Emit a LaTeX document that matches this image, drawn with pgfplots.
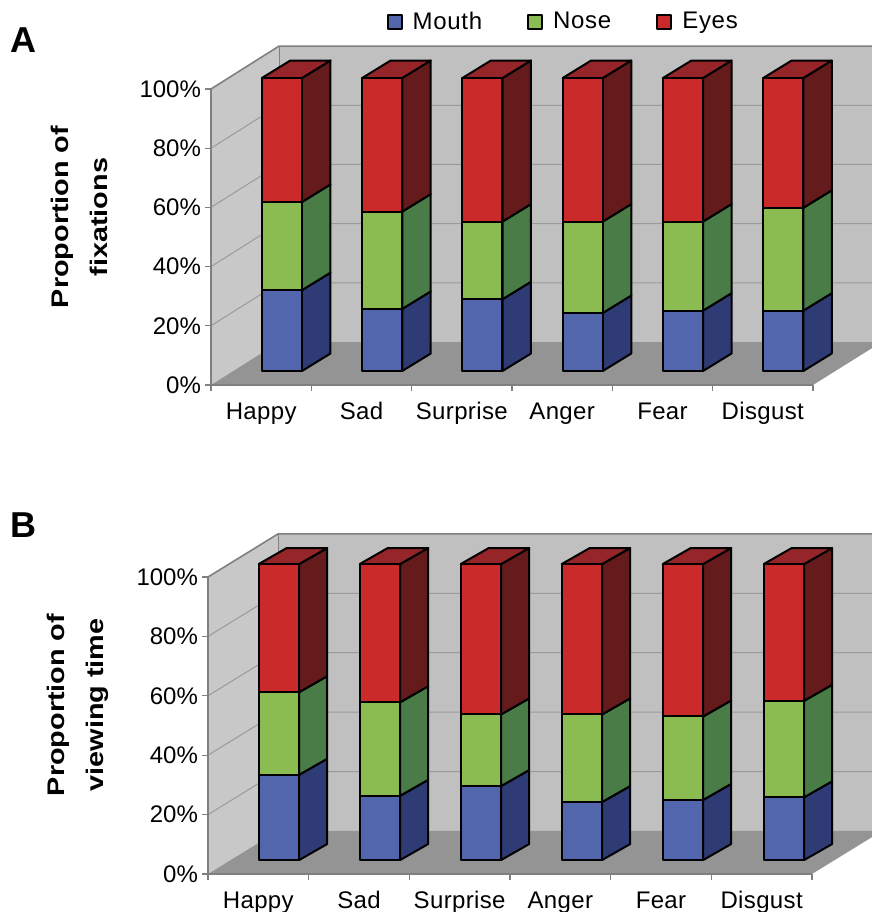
\documentclass[border=0pt]{standalone}
\usepackage{fontspec}
\setmainfont{Liberation Sans}
\newfontfamily\spaced[LetterSpace=1.5]{Liberation Sans}
\newfontfamily\legfont[LetterSpace=3]{Liberation Sans}
\newfontfamily\wide[FakeStretch=1.2]{Liberation Sans}
\usepackage{pgfplots}
\usepackage{pgfplotstable}
\pgfplotsset{compat=1.18}

% one reference pixel is 0.5pt here
\definecolor{mouthc}{HTML}{5166AC}
\definecolor{nosec}{HTML}{8ABC52}
\definecolor{eyesc}{HTML}{CB2A2A}
\definecolor{mouths}{HTML}{2F3B75}
\definecolor{noses}{HTML}{497C46}
\definecolor{eyess}{HTML}{651A1C}
\definecolor{eyest}{HTML}{962529}
\definecolor{wallc}{HTML}{C0C0C0}
\definecolor{sidewall}{HTML}{C8C8C8}
\definecolor{floorc}{HTML}{949494}
\definecolor{framec}{HTML}{808080}
\definecolor{gridc}{HTML}{9A9A9A}

\pgfplotstableread{
x   mouth nose eyes
0.5 27.6  30.1 42.3
1.5 21.2  33.2 45.6
2.5 24.5  26.5 49.0
3.5 19.8  31.2 49.0
4.5 20.6  30.4 49.0
5.5 20.6  35.1 44.3
}\tblA
\pgfplotstableread{
x   mouth nose eyes
0.5 28.8  27.9 43.3
1.5 21.7  31.6 46.7
2.5 25.0  24.2 50.8
3.5 19.6  29.6 50.8
4.5 20.3  28.2 51.5
5.5 21.2  32.6 46.2
}\tblB

\newcommand{\lbl}{\fontsize{12}{14}\selectfont}

% closed polygon from computed numbers
\newcommand{\poly}[2]{\edef\temp{\noexpand\addplot[forget plot,#1] coordinates {#2} --cycle;}\temp}

\pgfplotsset{
  frameaxis/.style={
    scale only axis, clip=false, axis on top,
    xmin=0, xmax=6, ymin=0, ymax=100,
    axis x line=bottom, axis y line=left,
    axis line style={-, draw=framec, line width=0.8pt},
    tick style={draw=framec, line width=0.6pt},
    tick align=outside,
    major tick length=3pt, minor tick length=3pt,
    major x tick style={draw=none},
    xtick={0.5,1.5,2.5,3.5,4.5,5.5},
    minor xtick={0,1,2,3,4,5,6},
    xticklabels={Happy,Sad,Surprise,Anger,Fear,Disgust},
    ytick={0,20,40,60,80,100},
    yticklabels={0\%,20\%,40\%,60\%,80\%,100\%},
    tick label style={font=\lbl},
    xticklabel style={font=\lbl\spaced, text height=9pt, text depth=2.5pt, yshift=-1.5pt},
    yticklabel style={xshift=1.5pt},
  },
  baraxis/.style={
    scale only axis, clip=false, hide axis,
    xmin=0, xmax=6, ymin=0, ymax=100,
  },
  front/.style={
    baraxis, ybar stacked, bar width=20pt,
    legend image code/.code={\draw[##1] (0pt,-3.5pt) rectangle (7pt,3.5pt);},
  },
  barline/.style={draw=black, line width=1pt, line join=round},
}

\newcommand{\roomA}{%
  \poly{fill=sidewall,draw=none}{(0,0) (0,100) (0.678,114.5) (0.678,14.5)}
  \poly{fill=wallc,draw=none}{(0.678,14.5) (0.678,114.5) (6.59,114.5) (6.59,14.5)}
  \poly{fill=floorc,draw=none}{(0,0) (0.678,14.5) (6.59,14.5) (6.59,12.5) (6,0)}
  \addplot[forget plot,gridc,line width=0.5pt] coordinates {(0,20) (0.678,34.5) (6.59,34.5)};
  \addplot[forget plot,gridc,line width=0.5pt] coordinates {(0,40) (0.678,54.5) (6.59,54.5)};
  \addplot[forget plot,gridc,line width=0.5pt] coordinates {(0,60) (0.678,74.5) (6.59,74.5)};
  \addplot[forget plot,gridc,line width=0.5pt] coordinates {(0,80) (0.678,94.5) (6.59,94.5)};
  \addplot[forget plot,framec,line width=0.8pt] coordinates {(0,100) (0.678,114.5) (6.59,114.5)};
  \addplot[forget plot,framec,line width=0.4pt] coordinates {(0.678,14.5) (0.678,114.5)};
}
\newcommand{\roomB}{%
  \poly{fill=sidewall,draw=none}{(0,0) (0,100) (0.695,114.5) (0.695,14.5)}
  \poly{fill=wallc,draw=none}{(0.695,14.5) (0.695,114.5) (6.6,114.5) (6.6,14.5)}
  \poly{fill=floorc,draw=none}{(0,0) (0.695,14.5) (6.6,14.5) (6.6,12.5) (6,0)}
  \addplot[forget plot,gridc,line width=0.5pt] coordinates {(0,20) (0.695,34.5) (6.6,34.5)};
  \addplot[forget plot,gridc,line width=0.5pt] coordinates {(0,40) (0.695,54.5) (6.6,54.5)};
  \addplot[forget plot,gridc,line width=0.5pt] coordinates {(0,60) (0.695,74.5) (6.6,74.5)};
  \addplot[forget plot,gridc,line width=0.5pt] coordinates {(0,80) (0.695,94.5) (6.6,94.5)};
  \addplot[forget plot,framec,line width=0.8pt] coordinates {(0,100) (0.695,114.5) (6.6,114.5)};
  \addplot[forget plot,framec,line width=0.4pt] coordinates {(0.695,14.5) (0.695,114.5)};
}

% side and top faces of the bars: table, depth in x, depth in y
\newcommand{\barsides}[3]{%
  \pgfplotsinvokeforeach{0,1,2,3,4,5}{%
    \pgfplotstablegetelem{##1}{x}\of{#1}\let\vx\pgfplotsretval
    \pgfplotstablegetelem{##1}{mouth}\of{#1}\let\vm\pgfplotsretval
    \pgfplotstablegetelem{##1}{nose}\of{#1}\let\vn\pgfplotsretval
    \pgfmathsetmacro\xl{\vx-0.2}
    \pgfmathsetmacro\xr{\vx+0.2}
    \pgfmathsetmacro\xlb{\xl+#2}
    \pgfmathsetmacro\xb{\xr+#2}
    \pgfmathsetmacro\ya{\vm}
    \pgfmathsetmacro\yb{\vm+\vn}
    \pgfmathsetmacro\yab{\ya+#3}
    \pgfmathsetmacro\ybb{\yb+#3}
    \pgfmathsetmacro\yob{#3}
    \pgfmathsetmacro\ytb{100+#3}
    \poly{fill=mouths,barline}{(\xr,0) (\xb,\yob) (\xb,\yab) (\xr,\ya)}
    \poly{fill=noses,barline}{(\xr,\ya) (\xb,\yab) (\xb,\ybb) (\xr,\yb)}
    \poly{fill=eyess,barline}{(\xr,\yb) (\xb,\ybb) (\xb,\ytb) (\xr,100)}
    \poly{fill=eyest,barline}{(\xl,100) (\xlb,\ytb) (\xb,\ytb) (\xr,100)}
  }%
}

\begin{document}
\begin{tikzpicture}
\useasboundingbox (0,0) rectangle (436pt,-456pt);

% panel A
\begin{axis}[frameaxis, at={(105.5pt,-192.5pt)}, anchor=south west, width=301pt, height=148pt]
  \roomA
\end{axis}
\begin{axis}[baraxis, at={(115.9pt,-185.5pt)}, anchor=south west, width=300.8pt, height=146.5pt]
  \barsides{\tblA}{0.284}{5.97}
\end{axis}
\begin{axis}[front, at={(115.9pt,-185.5pt)}, anchor=south west, width=300.8pt, height=146.5pt,
    legend columns=3,
    legend style={draw=none, fill=none, at={(0.5525,1.191)}, anchor=center, font=\lbl\legfont,
      /tikz/every odd column/.append style={column sep=3pt},
      /tikz/every even column/.append style={column sep=20.5pt}}]
  \addplot[fill=mouthc, barline] table[x=x, y=mouth] {\tblA};
  \addplot[fill=nosec, barline] table[x=x, y=nose] {\tblA};
  \addplot[fill=eyesc, barline] table[x=x, y=eyes] {\tblA};
  \legend{Mouth,Nose,Eyes}
\end{axis}

% panel B
\begin{axis}[frameaxis, at={(104pt,-437pt)}, anchor=south west, width=302pt, height=148.5pt]
  \roomB
\end{axis}
\begin{axis}[baraxis, at={(114.25pt,-430pt)}, anchor=south west, width=303pt, height=148pt]
  \barsides{\tblB}{0.277}{5.4}
\end{axis}
\begin{axis}[front, at={(114.25pt,-430pt)}, anchor=south west, width=303pt, height=148pt]
  \addplot[fill=mouthc, barline] table[x=x, y=mouth] {\tblB};
  \addplot[fill=nosec, barline] table[x=x, y=nose] {\tblB};
  \addplot[fill=eyesc, barline] table[x=x, y=eyes] {\tblB};
\end{axis}

\node[font=\fontsize{18}{20}\selectfont\bfseries] at (11.5pt,-20pt) {A};
\node[font=\fontsize{18}{20}\selectfont\bfseries] at (11.5pt,-262.5pt) {B};
\node[rotate=90, align=center, font=\fontsize{12}{19.5}\selectfont\wide\bfseries] at (39.75pt,-108.5pt) {Proportion of\\fixations};
\node[rotate=90, align=center, font=\fontsize{12}{19.5}\selectfont\wide\bfseries] at (39pt,-352.5pt) {Proportion of\\viewing time};
\end{tikzpicture}
\end{document}
